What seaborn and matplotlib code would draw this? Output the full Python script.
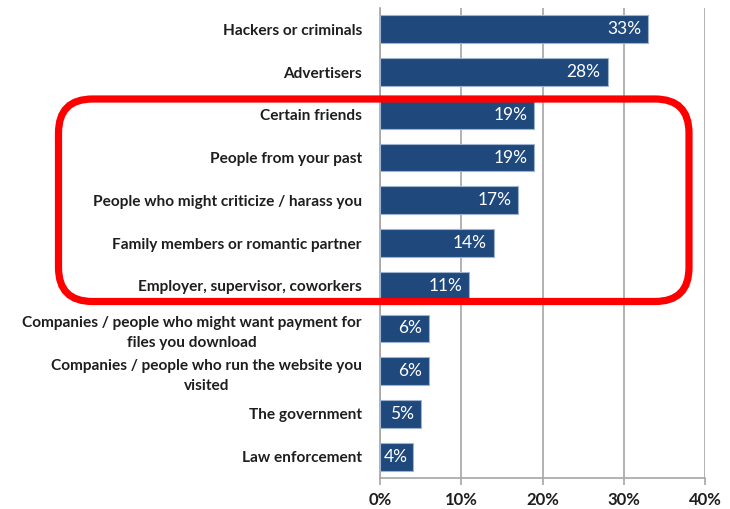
import matplotlib
matplotlib.use("Agg")
import matplotlib.pyplot as plt
from matplotlib.patches import FancyBboxPatch
from matplotlib.transforms import IdentityTransform
from matplotlib.ticker import PercentFormatter
import seaborn as sns
import pandas as pd

categories = [
    "Hackers or criminals",
    "Advertisers",
    "Certain friends",
    "People from your past",
    "People who might criticize / harass you",
    "Family members or romantic partner",
    "Employer, supervisor, coworkers",
    "Companies / people who might want payment for\nfiles you download",
    "Companies / people who run the website you\nvisited",
    "The government",
    "Law enforcement",
]
values = [33, 28, 19, 19, 17, 14, 11, 6, 6, 5, 4]
x_ticks = [0, 10, 20, 30, 40]

df = pd.DataFrame({"group": categories, "share": values})

sns.set_theme(style="white")
plt.rcParams["font.family"] = ["Lato", "DejaVu Sans"]

fig = plt.figure(figsize=(7.3, 5.09), dpi=100)
ax = fig.add_axes([380 / 730, 1 - 478 / 509, 325 / 730, 470 / 509])

bar_color = "#1F497D"
sns.barplot(data=df, x="share", y="group", orient="h", color=bar_color,
            width=0.65, edgecolor="#9DB3CE", linewidth=0.8, saturation=1,
            ax=ax, zorder=3)

ax.set_xlim(0, 40)
ax.set_xticks(x_ticks)
ax.xaxis.set_major_formatter(PercentFormatter(decimals=0))
ax.set_xlabel("")
ax.set_ylabel("")

ax.grid(axis="x", color="#A6A6A6", linewidth=1.2, zorder=0)
ax.grid(axis="y", visible=False)
for side in ("top", "right"):
    ax.spines[side].set_visible(False)
for side in ("left", "bottom"):
    ax.spines[side].set_color("#A6A6A6")
    ax.spines[side].set_linewidth(1.2)

# tick marks between categories on the y axis, none on the labels themselves
n = len(categories)
ax.set_yticks(range(n))
ax.set_yticklabels(categories, multialignment="center", linespacing=1.55,
                   fontsize=11.1, fontweight="bold", color="#1E1E1E")
ax.set_yticks([i - 0.5 for i in range(n + 1)], minor=True)
ax.tick_params(axis="y", which="major", length=0, pad=13)
ax.tick_params(axis="y", which="minor", length=5, color="#A6A6A6", width=1.2, direction="out")
ax.tick_params(axis="x", which="major", length=5, color="#A6A6A6", width=1.2,
               direction="out", pad=5, bottom=True)

for lab in ax.get_xticklabels():
    lab.set_fontsize(12)
    lab.set_fontweight("bold")
    lab.set_color("#1E1E1E")

# value labels just inside the bar ends; short bars keep the label inside from the left
bars = ax.containers[0]
labels = []
for patch, v in zip(bars, values):
    yc = patch.get_y() + patch.get_height() / 2
    t = ax.annotate(f"{v}%", xy=(v, yc), xytext=(-5, 0), textcoords="offset points",
                    ha="right", va="center", color="white", fontsize=12.5, zorder=5)
    labels.append((t, yc))

fig.canvas.draw()
renderer = fig.canvas.get_renderer()
ax_x0 = ax.get_window_extent(renderer).x0
for t, yc in labels:
    if t.get_window_extent(renderer).x0 < ax_x0 + 4:
        t.xy = (0, yc)
        t.set_position((3, 0))
        t.set_horizontalalignment("left")

# rounded red highlight frame around the personal-relations group
frame = FancyBboxPatch((58.5, 207.5), 630.5, 202.5,
                       boxstyle="round,pad=0,rounding_size=34",
                       transform=IdentityTransform(), fill=False,
                       edgecolor="#FF0000", linewidth=5.2, clip_on=False, zorder=10)
fig.add_artist(frame)

fig.savefig("out.png", dpi=100)
